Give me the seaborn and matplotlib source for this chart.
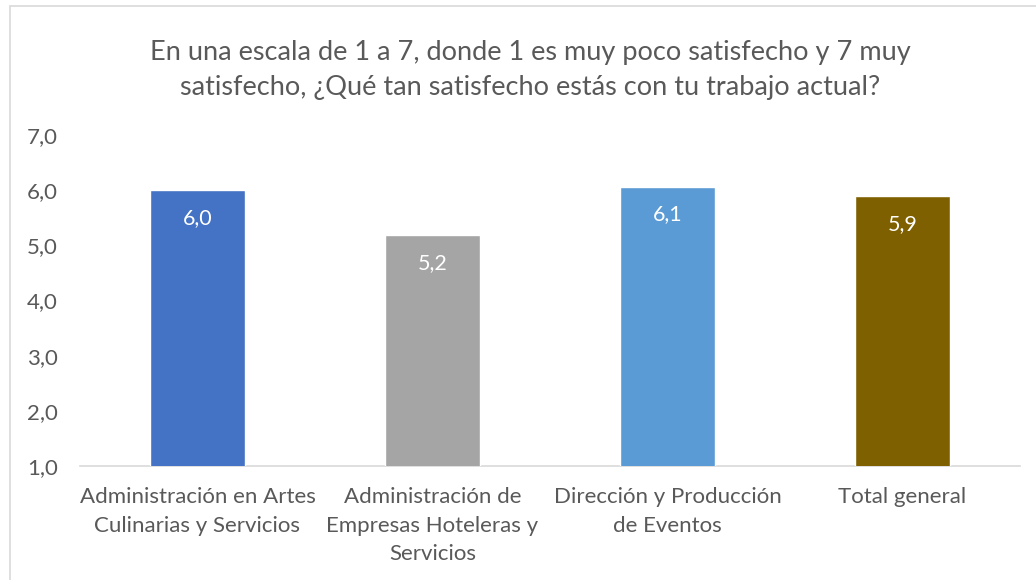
import matplotlib
matplotlib.use("Agg")
import matplotlib.pyplot as plt
import seaborn as sns
from matplotlib.patches import Rectangle

categorias = ["Administración en Artes\nCulinarias y Servicios",
              "Administración de\nEmpresas Hoteleras y\nServicios",
              "Dirección y Producción\nde Eventos",
              "Total general"]
valores = [6.0, 5.18, 6.06, 5.89]
colores = ["#4472C4", "#A5A5A5", "#5B9BD5", "#7F6000"]
yticks = [1, 2, 3, 4, 5, 6, 7]

sns.set_theme(style="white")
plt.rcParams['font.family'] = ['Lato', 'DejaVu Sans']

fig = plt.figure(figsize=(10.36, 5.8), dpi=100)
ax = fig.add_axes([0.0772, 0.1966, 0.9074, 0.5704])

sns.barplot(x=categorias, y=valores, hue=categorias, palette=colores,
            legend=False, width=0.404, saturation=1, ax=ax)

for cont in ax.containers:
    ax.bar_label(cont, labels=[f"{v:.1f}".replace(".", ",") for v in cont.datavalues],
                 padding=-27, color="white", fontsize=15.5)

ax.set_ylim(1, 7)
ax.set_yticks(yticks)
ax.set_yticklabels([f"{t:.1f}".replace(".", ",") for t in yticks], color="#595959", fontsize=16)
ax.tick_params(axis="x", colors="#595959", labelsize=16, length=0, pad=15)
ax.tick_params(axis="y", length=0, pad=16)
for lab in ax.get_xticklabels():
    lab.set_color("#595959")
    lab.set_linespacing(1.55)
ax.set_xlim(-0.5, 3.5)
ax.set_xlabel("")
ax.set_ylabel("")
for s in ["top", "right", "left"]:
    ax.spines[s].set_visible(False)
ax.spines["bottom"].set_color("#D9D9D9")
ax.spines["bottom"].set_linewidth(1.2)
ax.spines["bottom"].set_zorder(0)

fig.text(0.512, 0.879, "En una escala de 1 a 7, donde 1 es muy poco satisfecho y 7 muy\nsatisfecho, ¿Qué tan satisfecho estás con tu trabajo actual?",
         ha="center", va="center", fontsize=19.5, color="#595959", linespacing=1.52)

fig.patches.append(Rectangle((0.0098, -0.01), 1.0, 1.0, transform=fig.transFigure,
                             fill=False, edgecolor="#D9D9D9", linewidth=1.2))

fig.savefig("out.png", dpi=100)
